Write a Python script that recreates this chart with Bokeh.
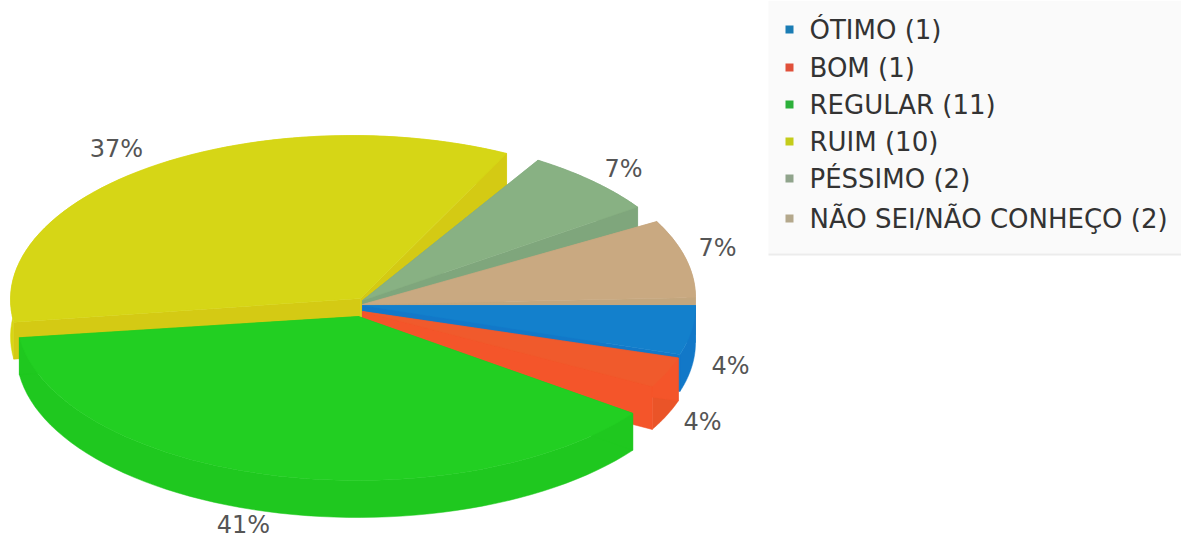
import numpy as np
from bokeh.plotting import figure
from bokeh.embed import file_html
from bokeh.resources import INLINE
from bokeh.core.properties import value

# ---- data
categories = ["ÓTIMO", "BOM", "REGULAR", "RUIM", "PÉSSIMO", "NÃO SEI/NÃO CONHEÇO"]
counts = [1, 1, 11, 10, 2, 2]

# ---- styles / layout
top_colors = ["#1380cc", "#f05a2c", "#22cf22", "#d6d616", "#88b183", "#c9a981"]
outer_colors = ["#1278c8", "#ea5428", "#1fc81f", "#d8d612", "#7fa67c", "#c0a27c"]
inner_colors = ["#1278c8", "#f4552a", "#1fc81f", "#d4ca14", "#7fa67c", "#c2a67e"]
legend_colors = ["#1a7cb4", "#e0503a", "#2cb03a", "#c4cc1a", "#90a48c", "#b4a88c"]
draw_order = [3, 4, 5, 0, 1, 2]
RX, RY, WARP = 341, 164, 9
arc_cx = [354, 354, 357, 351, 354, 354]
arc_cy = [305, 306, 316, 299, 298, 297]
depth = [37, 43, 37, 37, 37, 37]
apex_x = [362, 362, 358, 360, 362, 362]
apex_y = [305, 311, 316, 298, 300, 304]
trim_start = [0, 0.9, 2.3, 0.8, 4.5, 6.3]
trim_end = [0, -4.7, 1.3, -1, 0, 0]
label_pos = [(730, 365), (702, 421), (243, 524), (116, 148), (623, 168), (717, 247)]
legend_y = [29, 67, 104, 141, 178, 218]

p = figure(width=1181, height=539, x_range=(0, 1181), y_range=(539, 0),
           output_backend="svg", toolbar_location=None, min_border=0)
p.axis.visible = False
p.grid.visible = False
p.outline_line_color = None
p.background_fill_color = "white"


def warp(angle):
    return angle + WARP * np.sin(np.radians(2 * angle))


def poly(xs, ys, color):
    p.patch(list(xs), list(ys), fill_color=color, line_color=color, line_width=0.5)


total = sum(counts)
edges = np.cumsum([0] + counts) / total * 360.0
for i in draw_order:
    t = np.radians(np.linspace(warp(edges[i]) + trim_start[i], warp(edges[i + 1]) + trim_end[i], 60))
    ax = arc_cx[i] + RX * np.cos(t)
    ay = arc_cy[i] + RY * np.sin(t)
    d = depth[i]
    # outer wall
    poly(np.r_[ax, ax[::-1]], np.r_[ay, ay[::-1] + d], outer_colors[i])
    # cut walls
    for k in (0, -1):
        poly([apex_x[i], ax[k], ax[k], apex_x[i]],
             [apex_y[i], ay[k], ay[k] + d, apex_y[i] + d], inner_colors[i])
    # top surface
    poly(np.r_[apex_x[i], ax], np.r_[apex_y[i], ay], top_colors[i])

# percent labels
pct = [f"{round(100 * c / total)}%" for c in counts]
p.text([q[0] for q in label_pos], [q[1] for q in label_pos], text=pct,
       text_font=value("DejaVu Sans"), text_font_size="24px", text_color="#555555",
       text_align="center", text_baseline="middle")

# legend
p.quad(left=[768], right=[1181], top=[0], bottom=[253], fill_color="#fafafa", line_color=None)
p.quad(left=[768], right=[1181], top=[253], bottom=[255], fill_color="#ececec", line_color=None)
p.quad(left=[785] * 6, right=[793] * 6,
       top=[y - 4 for y in legend_y], bottom=[y + 4 for y in legend_y],
       fill_color=legend_colors, line_color=None)
p.text([809] * 6, legend_y, text=[f"{c} ({v})" for c, v in zip(categories, counts)],
       text_font=value("DejaVu Sans"), text_font_size="26px", text_color="#333333",
       text_align="left", text_baseline="middle")

open("out.html", "w").write(file_html(p, INLINE))
